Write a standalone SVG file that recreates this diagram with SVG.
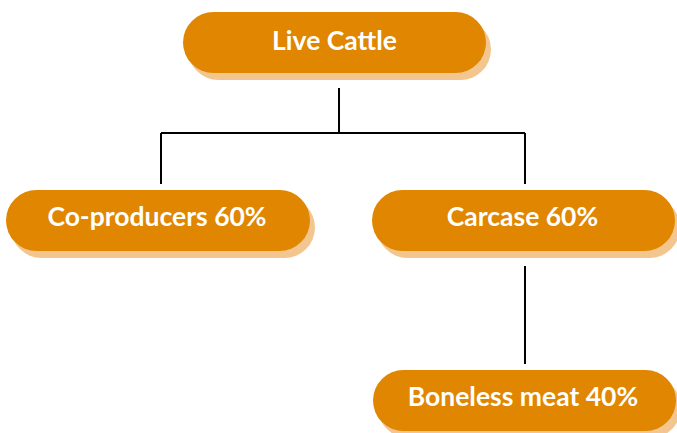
<svg xmlns="http://www.w3.org/2000/svg" width="677" height="433" viewBox="0 0 677 433">
<style>
.sh{fill:#F3C690}
.pill{fill:#E08600}
.lbl{font-family:Lato,"Open Sans","Liberation Sans",sans-serif;font-weight:bold;font-size:26.5px;fill:#fff;text-anchor:middle}
.conn{stroke:#000;stroke-width:2;fill:none}
</style>
<rect width="677" height="433" fill="#fff"/>
<g id="connectors">
<path class="conn" d="M339 88V133M161 133H525M161 133V184M525 133V184M525 266V364"/>
</g>
<g id="live-cattle">
<rect class="sh" x="188" y="19" width="303" height="61" rx="30.5"/>
<rect class="pill" x="183" y="12" width="303" height="61" rx="30.5"/>
<text class="lbl" x="334.5" y="50">Live Cattle</text>
</g>
<g id="co-producers">
<rect class="sh" x="11" y="197" width="304" height="61" rx="30.5"/>
<rect class="pill" x="6" y="190" width="304" height="61" rx="30.5"/>
<text class="lbl" x="157" y="226">Co-producers 60%</text>
</g>
<g id="carcase">
<rect class="sh" x="377" y="197" width="303" height="61" rx="30.5"/>
<rect class="pill" x="372" y="190" width="303" height="61" rx="30.5"/>
<text class="lbl" x="522.5" y="226">Carcase 60%</text>
</g>
<g id="boneless-meat">
<rect class="sh" x="378" y="377" width="303" height="61" rx="30.5"/>
<rect class="pill" x="373" y="370" width="303" height="61" rx="30.5"/>
<text class="lbl" x="523" y="406">Boneless meat 40%</text>
</g>
</svg>
